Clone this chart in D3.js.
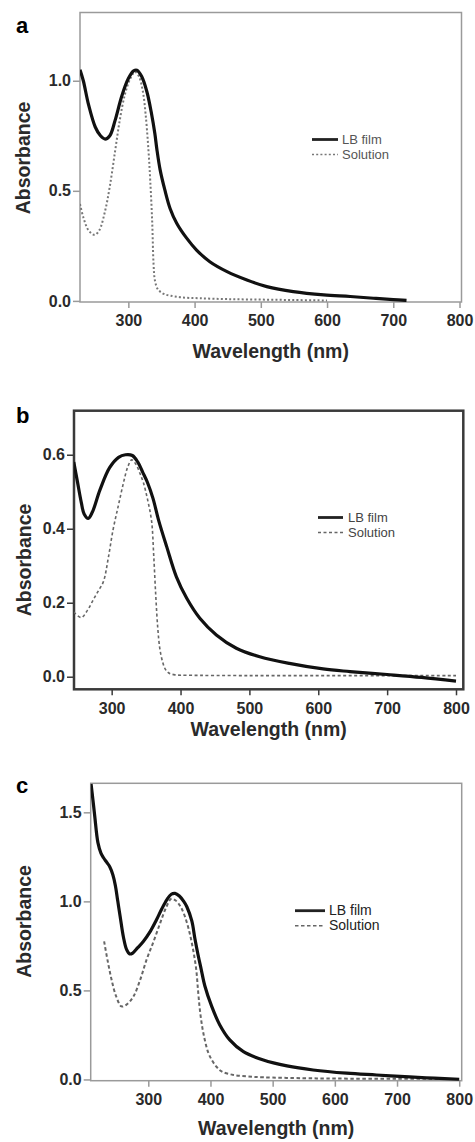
<!DOCTYPE html>
<html>
<head>
<meta charset="utf-8">
<script src="https://cdn.jsdelivr.net/npm/d3@7"></script>
<style>
  body { margin: 0; background: #fff; }
  svg text { font-family: "Liberation Sans", Arial, sans-serif; }
</style>
</head>
<body>
<svg id="chart" width="475" height="1142"></svg>
<script>
// ---- data (wavelength nm, absorbance) ----
const aFilmWl  = [227, 232, 240, 250, 258, 265, 272, 280, 290, 300, 308, 313, 320, 328, 335, 340, 343, 348, 355, 363, 373, 388, 403, 423, 449, 479, 509, 549, 595, 635, 670, 700, 720];
const aFilmAbs = [1.05, 1.0, 0.89, 0.79, 0.75, 0.735, 0.75, 0.82, 0.93, 1.01, 1.045, 1.048, 1.02, 0.95, 0.85, 0.76, 0.69, 0.595, 0.505, 0.42, 0.353, 0.285, 0.231, 0.178, 0.133, 0.095, 0.065, 0.042, 0.027, 0.02, 0.012, 0.006, 0.002];
const aSolWl   = [227, 232, 240, 249, 256, 265, 272, 280, 287, 295, 303, 310, 316, 322, 326, 330, 333, 336, 338, 340, 344, 348, 355, 363, 380, 408, 450, 500, 550, 600];
const aSolAbs  = [0.44, 0.38, 0.32, 0.30, 0.32, 0.41, 0.52, 0.68, 0.82, 0.94, 1.01, 1.04, 1.02, 0.95, 0.85, 0.70, 0.55, 0.36, 0.17, 0.095, 0.055, 0.042, 0.03, 0.024, 0.016, 0.012, 0.008, 0.006, 0.004, 0.002];

const bFilmWl  = [245, 250, 256, 260, 266, 272, 283, 297, 310, 320, 330, 338, 345, 352, 360, 368, 380, 394, 409, 428, 452, 481, 515, 558, 607, 646, 700, 750, 800];
const bFilmAbs = [0.58, 0.53, 0.47, 0.44, 0.428, 0.445, 0.505, 0.565, 0.593, 0.6, 0.598, 0.58, 0.553, 0.525, 0.482, 0.424, 0.351, 0.27, 0.212, 0.158, 0.113, 0.077, 0.054, 0.036, 0.021, 0.014, 0.006, -0.002, -0.012];
const bSolWl   = [245, 256, 265, 273, 280, 288, 295, 302, 310, 317, 323, 329, 335, 341, 346, 352, 358, 361, 364, 367, 370, 374, 378, 383, 392, 410, 500, 600, 700, 800];
const bSolAbs  = [0.175, 0.16, 0.18, 0.207, 0.23, 0.257, 0.32, 0.397, 0.465, 0.523, 0.565, 0.586, 0.575, 0.55, 0.525, 0.48, 0.42, 0.33, 0.22, 0.13, 0.075, 0.04, 0.02, 0.01, 0.005, 0.004, 0.003, 0.003, 0.003, 0.003];

const cFilmWl  = [208, 211, 214, 219, 224, 228, 233, 238, 243, 247, 251, 255, 260, 265, 270, 275, 283, 292, 303, 313, 322, 330, 337, 343, 350, 357, 362, 370, 375, 380, 385, 391, 402, 415, 431, 453, 485, 523, 565, 619, 667, 720, 760, 800];
const cFilmAbs = [1.66, 1.57, 1.475, 1.33, 1.27, 1.245, 1.22, 1.195, 1.15, 1.09, 1.0, 0.91, 0.8, 0.73, 0.705, 0.71, 0.74, 0.775, 0.83, 0.895, 0.96, 1.01, 1.04, 1.045, 1.03, 1.0, 0.97, 0.89, 0.79, 0.70, 0.62, 0.525, 0.41, 0.306, 0.222, 0.156, 0.109, 0.076, 0.053, 0.035, 0.025, 0.014, 0.007, 0.0];
const cSolWl   = [229, 235, 241, 248, 257, 265, 276, 287, 297, 308, 319, 328, 337, 344, 352, 359, 366, 372, 377, 380, 383, 387, 391, 396, 402, 410, 418, 437, 460, 485, 550, 600, 700, 770];
const cSolAbs  = [0.775, 0.66, 0.56, 0.47, 0.41, 0.42, 0.465, 0.56, 0.67, 0.77, 0.877, 0.96, 1.015, 1.005, 0.97, 0.914, 0.83, 0.73, 0.62, 0.50, 0.39, 0.29, 0.22, 0.155, 0.11, 0.07, 0.045, 0.025, 0.017, 0.012, 0.007, 0.005, 0.004, 0.003];

const xTicks  = [300, 400, 500, 600, 700, 800];
const aYTicks = [0.0, 0.5, 1.0];
const bYTicks = [0.0, 0.2, 0.4, 0.6];
const cYTicks = [0.0, 0.5, 1.0, 1.5];
const legendLabels = ["LB film", "Solution"];

const zip = (xs, ys) => xs.map((x, i) => [x, ys[i]]);

const panels = [
  { letter: "a", letterY: 33,
    box: { l: 80, r: 461.5, t: 12.5, b: 302 }, xDom: [227, 803], yDom: [-0.005, 1.31], yTicks: aYTicks,
    frame: { color: "#9a9a9a", width: 1.5 }, film: zip(aFilmWl, aFilmAbs), sol: zip(aSolWl, aSolAbs),
    solStyle: { color: "#777", width: 2, dash: "2,2.2" },
    xTitleY: 358, yTitleX: 30, yTitleY: 158,
    legend: { x1: 312, x2: 338, y: 139.5, dy: 15, tx: 342, size: 13, color: "#555" } },
  { letter: "b", letterY: 423,
    box: { l: 74, r: 463.3, t: 410.7, b: 689.3 }, xDom: [245.3, 810.6], yDom: [-0.034, 0.719], yTicks: bYTicks,
    frame: { color: "#3a3a3a", width: 2.5 }, film: zip(bFilmWl, bFilmAbs), sol: zip(bSolWl, bSolAbs),
    solStyle: { color: "#666", width: 1.6, dash: "3,2.5" },
    xTitleY: 736, yTitleX: 31, yTitleY: 560,
    legend: { x1: 318, x2: 343, y: 517.5, dy: 15, tx: 348, size: 13, color: "#444" } },
  { letter: "c", letterY: 793,
    box: { l: 90.7, r: 461.7, t: 783.3, b: 1080.7 }, xDom: [207.4, 804], yDom: [-0.007, 1.663], yTicks: cYTicks,
    frame: { color: "#9a9a9a", width: 1.5 }, film: zip(cFilmWl, cFilmAbs), sol: zip(cSolWl, cSolAbs),
    solStyle: { color: "#666", width: 2, dash: "3.5,2.5" },
    xTitleY: 1135, yTitleX: 31, yTitleY: 921.5,
    legend: { x1: 295, x2: 325, y: 910.7, dy: 15, tx: 329, size: 14, color: "#222" } }
];

const svg = d3.select("#chart");

panels.forEach(p => {
  const g = svg.append("g");
  const x = d3.scaleLinear().domain(p.xDom).range([p.box.l, p.box.r]);
  const y = d3.scaleLinear().domain(p.yDom).range([p.box.b, p.box.t]);

  // clip curves to the frame
  const clipId = "clip-" + p.letter;
  g.append("clipPath").attr("id", clipId).append("rect")
    .attr("x", p.box.l).attr("y", p.box.t)
    .attr("width", p.box.r - p.box.l).attr("height", p.box.b - p.box.t);

  // axes
  const xAxis = g.append("g").attr("transform", `translate(0,${p.box.b})`)
    .call(d3.axisBottom(x).tickValues(xTicks).tickSize(6).tickPadding(7).tickFormat(d3.format("d")));
  const yAxis = g.append("g").attr("transform", `translate(${p.box.l},0)`)
    .call(d3.axisLeft(y).tickValues(p.yTicks).tickSize(7).tickPadding(2).tickFormat(d3.format(".1f")));
  [xAxis, yAxis].forEach(ax => {
    ax.select(".domain").remove();
    ax.selectAll(".tick line").attr("stroke", p.frame.color).attr("stroke-width", 1.5);
    ax.selectAll(".tick text").attr("fill", "#2a2a2a").style("font-size", "16px").style("font-weight", "bold");
  });

  // frame
  g.append("rect")
    .attr("x", p.box.l).attr("y", p.box.t)
    .attr("width", p.box.r - p.box.l).attr("height", p.box.b - p.box.t)
    .attr("fill", "none").attr("stroke", p.frame.color).attr("stroke-width", p.frame.width);

  const line = d3.line().x(d => x(d[0])).y(d => y(d[1])).curve(d3.curveCatmullRom.alpha(0.5));

  const curves = g.append("g").attr("clip-path", `url(#${clipId})`);
  curves.append("path").datum(p.sol).attr("d", line)
    .attr("fill", "none").attr("stroke", p.solStyle.color)
    .attr("stroke-width", p.solStyle.width).attr("stroke-dasharray", p.solStyle.dash);
  curves.append("path").datum(p.film).attr("d", line)
    .attr("fill", "none").attr("stroke", "#111").attr("stroke-width", 3.2)
    .attr("stroke-linejoin", "round");

  // legend
  const L = p.legend;
  g.append("line").attr("x1", L.x1).attr("x2", L.x2).attr("y1", L.y).attr("y2", L.y)
    .attr("stroke", "#222").attr("stroke-width", 2.8);
  g.append("line").attr("x1", L.x1).attr("x2", L.x2).attr("y1", L.y + L.dy).attr("y2", L.y + L.dy)
    .attr("stroke", p.solStyle.color).attr("stroke-width", 1.6).attr("stroke-dasharray", p.solStyle.dash);
  legendLabels.forEach((t, i) => {
    g.append("text").attr("x", L.tx).attr("y", L.y + i * L.dy + 4.5)
      .attr("fill", L.color).style("font-size", L.size + "px").text(t);
  });

  // titles
  g.append("text").attr("x", (p.box.l + p.box.r) / 2).attr("y", p.xTitleY)
    .attr("text-anchor", "middle").attr("fill", "#2a2a2a")
    .style("font-size", "19.5px").style("font-weight", "bold").text("Wavelength (nm)");
  g.append("text").attr("transform", `translate(${p.yTitleX},${p.yTitleY}) rotate(-90)`)
    .attr("text-anchor", "middle").attr("fill", "#2a2a2a")
    .style("font-size", "19.5px").style("font-weight", "bold").text("Absorbance");
  g.append("text").attr("x", 16).attr("y", p.letterY)
    .attr("fill", "#000").style("font-size", "22px").style("font-weight", "bold").text(p.letter);
});
</script>
</body>
</html>
